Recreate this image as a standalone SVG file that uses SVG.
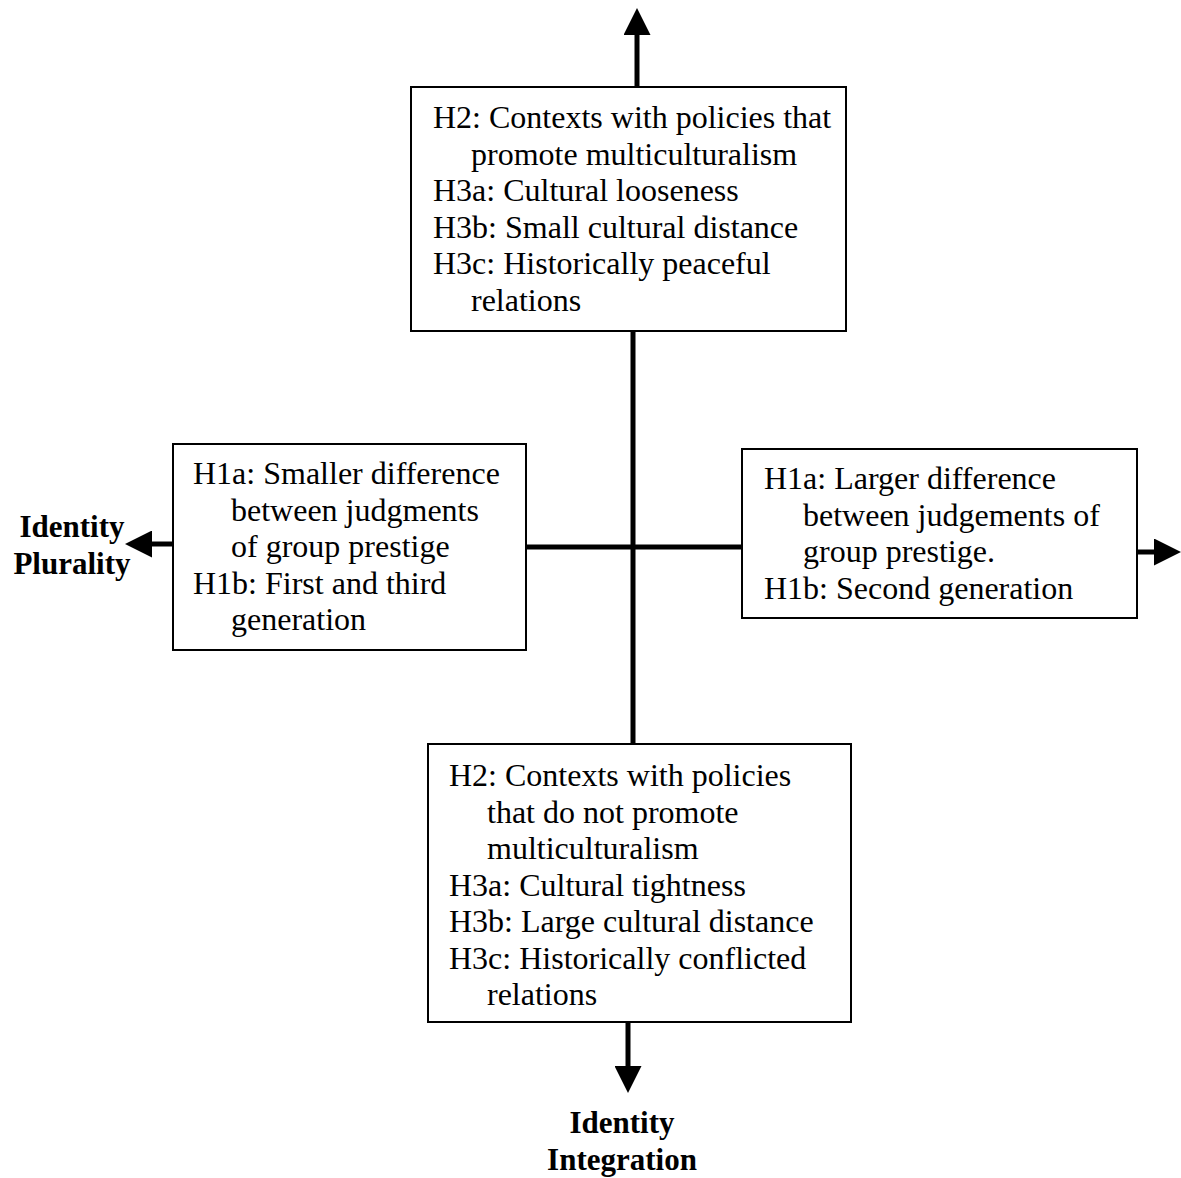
<svg xmlns="http://www.w3.org/2000/svg" width="1181" height="1178" viewBox="0 0 1181 1178">
  <style>
    .box { fill: #ffffff; stroke: #000000; stroke-width: 2; }
    .axis { stroke: #000000; stroke-width: 5; fill: none; }
    .t { font-family: "Liberation Serif", "Times New Roman", serif; font-size: 32px; fill: #000000; }
    .lbl { font-family: "Liberation Serif", "Times New Roman", serif; font-size: 31px; font-weight: bold; fill: #000000; text-anchor: middle; }
  </style>
  <defs>
    <marker id="head" markerUnits="userSpaceOnUse" markerWidth="27" markerHeight="27" viewBox="0 0 27 27" refX="0" refY="13.5" orient="auto">
      <path d="M0,0 L27,13.5 L0,27 Z" fill="#000000"/>
    </marker>
  </defs>
  <rect width="1181" height="1178" fill="#ffffff"/>

  <!-- axes and arrows -->
  <g id="connectors">
    <line class="axis" x1="633" y1="331" x2="633" y2="744"/>
    <line class="axis" x1="526" y1="547" x2="742" y2="547"/>
    <line class="axis" x1="637" y1="87" x2="637" y2="35" marker-end="url(#head)"/>
    <line class="axis" x1="173" y1="544" x2="152" y2="544" marker-end="url(#head)"/>
    <line class="axis" x1="1137" y1="552" x2="1154" y2="552" marker-end="url(#head)"/>
    <line class="axis" x1="628" y1="1022" x2="628" y2="1066" marker-end="url(#head)"/>
  </g>

  <!-- upper box -->
  <g id="node-top">
    <rect class="box" x="411" y="87" width="435" height="244"/>
    <text class="t" x="433" y="128">H2: Contexts with policies that</text>
    <text class="t" x="471" y="164.5">promote multiculturalism</text>
    <text class="t" x="433" y="201">H3a: Cultural looseness</text>
    <text class="t" x="433" y="237.5">H3b: Small cultural distance</text>
    <text class="t" x="433" y="274">H3c: Historically peaceful</text>
    <text class="t" x="471" y="310.5">relations</text>
  </g>

  <!-- left box -->
  <g id="node-left">
    <rect class="box" x="173" y="444" width="353" height="206"/>
    <text class="t" x="193" y="484">H1a: Smaller difference</text>
    <text class="t" x="231" y="520.5">between judgments</text>
    <text class="t" x="231" y="557">of group prestige</text>
    <text class="t" x="193" y="593.5">H1b: First and third</text>
    <text class="t" x="231" y="630">generation</text>
  </g>

  <!-- right box -->
  <g id="node-right">
    <rect class="box" x="742" y="449" width="395" height="169"/>
    <text class="t" x="764" y="489">H1a: Larger difference</text>
    <text class="t" x="803" y="525.5">between judgements of</text>
    <text class="t" x="803" y="562">group prestige.</text>
    <text class="t" x="764" y="598.5">H1b: Second generation</text>
  </g>

  <!-- lower box -->
  <g id="node-bottom">
    <rect class="box" x="428" y="744" width="423" height="278"/>
    <text class="t" x="449" y="786">H2: Contexts with policies</text>
    <text class="t" x="487" y="822.5">that do not promote</text>
    <text class="t" x="487" y="859">multiculturalism</text>
    <text class="t" x="449" y="895.5">H3a: Cultural tightness</text>
    <text class="t" x="449" y="932">H3b: Large cultural distance</text>
    <text class="t" x="449" y="968.5">H3c: Historically conflicted</text>
    <text class="t" x="487" y="1005">relations</text>
  </g>

  <!-- axis labels -->
  <g id="label-plurality">
    <text class="lbl" x="72" y="537">Identity</text>
    <text class="lbl" x="72" y="574">Plurality</text>
  </g>
  <g id="label-integration">
    <text class="lbl" x="622" y="1133">Identity</text>
    <text class="lbl" x="622" y="1170">Integration</text>
  </g>
</svg>
